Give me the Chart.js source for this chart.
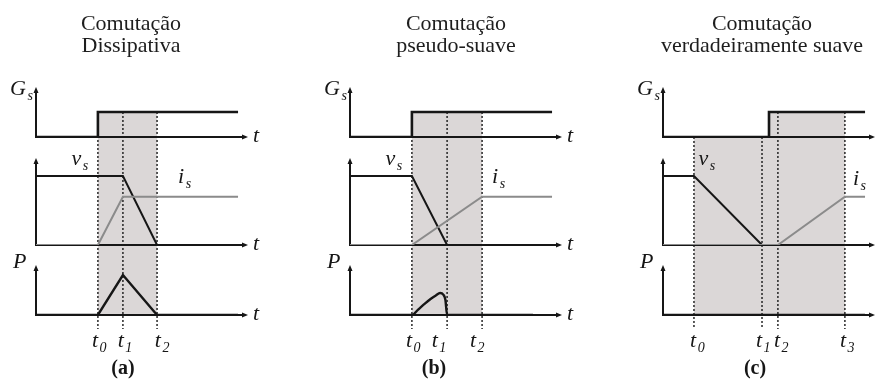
<!DOCTYPE html>
<html lang="pt">
<head>
<meta charset="utf-8">
<title>Comutação</title>
<script src="https://cdn.jsdelivr.net/npm/chart.js@4.4.1/dist/chart.umd.min.js"></script>
<style>
  html, body { margin: 0; padding: 0; background: #fff; overflow: hidden; }
  #fig { position: relative; width: 880px; height: 379px; overflow: hidden; }
  #fig canvas { position: absolute; top: 0; }
</style>
</head>
<body>
<div id="fig">
  <canvas id="panelA" width="262" height="379" style="left:0px"></canvas>
  <canvas id="panelB" width="300" height="379" style="left:306px"></canvas>
  <canvas id="panelC" width="264" height="379" style="left:630px"></canvas>
</div>
<script>
// --- waveforms (time in arbitrary units, levels normalised) ---

// (a) dissipative switching
const titleA = ['Comutação', 'Dissipativa'];
const gateTimeA = [0, 2.92, 2.92, 9.53];
const gateLevelA = [0, 0, 1, 1];
const vsTimeA = [0, 4.10, 5.71];
const vsLevelA = [1, 1, 0];
const isTimeA = [0, 2.92, 4.10, 9.53];
const isLevelA = [0, 0, 0.70, 0.70];
const powerTimeA = [0, 2.92, 4.10, 5.71, 9.53];
const powerLevelA = [0, 0, 1, 0, 0];
const instantsA = [2.92, 4.10, 5.71];

// (b) pseudo-soft switching
const titleB = ['Comutação', 'pseudo-suave'];
const gateTimeB = [0, 2.92, 2.92, 9.53];
const gateLevelB = [0, 0, 1, 1];
const vsTimeB = [0, 2.92, 4.58];
const vsLevelB = [1, 1, 0];
const isTimeB = [0, 2.92, 6.23, 9.53];
const isLevelB = [0, 0, 0.70, 0.70];
const powerTimeB = [0, 2.92, 3.2, 3.5, 3.8, 4.05, 4.25, 4.4, 4.5, 4.58, 8.63];
const powerLevelB = [0, 0, 0.13, 0.27, 0.40, 0.49, 0.55, 0.51, 0.38, 0, 0];
const instantsB = [2.92, 4.58, 6.23];

// (c) truly soft switching
const titleC = ['Comutação', 'verdadeiramente suave'];
const gateTimeC = [0, 5.0, 5.0, 9.53];
const gateLevelC = [0, 0, 1, 1];
const vsTimeC = [0, 1.46, 4.67];
const vsLevelC = [1, 1, 0];
const isTimeC = [0, 5.42, 8.58, 9.53];
const isLevelC = [0, 0, 0.70, 0.70];
const powerTimeC = [0, 9.53];
const powerLevelC = [0, 0];
const instantsC = [1.46, 4.67, 5.42, 8.58];

const INK = '#161616';
const CURRENT = '#8b8b8b';
const SHADE = '#dbd7d7';
const SERIF = '"Liberation Serif", "DejaVu Serif", serif';

function pts(ts, vs) {
  return ts.map((t, i) => ({ x: t, y: vs[i] }));
}

// italic symbol with optional subscript, left aligned on the baseline
function symbol(ctx, x, y, base, sub) {
  ctx.textAlign = 'left';
  ctx.textBaseline = 'alphabetic';
  ctx.font = `italic 22px ${SERIF}`;
  ctx.fillText(base, x, y);
  if (sub) {
    const w = ctx.measureText(base).width;
    ctx.font = `italic 14px ${SERIF}`;
    ctx.fillText(sub, x + w + 1.5, y + 5);
  }
}

// shaded switching interval, dotted instants, arrowed axes and symbols
const switchingDecor = {
  id: 'switchingDecor',
  beforeDatasetsDraw(chart, args, o) {
    const { ctx } = chart;
    const { x, yG, yV, yP } = chart.scales;
    const X = v => x.getPixelForValue(v);
    const gLow = yG.getPixelForValue(0);
    const gHigh = yG.getPixelForValue(1);
    const pBase = yP.getPixelForValue(0);
    const first = o.instants[0];
    const last = o.instants[o.instants.length - 1];
    const onAt = Math.max(first, o.gateOn);

    ctx.save();
    ctx.fillStyle = SHADE;
    ctx.fillRect(X(first), gLow, X(last) - X(first), pBase - gLow);
    ctx.fillRect(X(onAt), gHigh, X(last) - X(onAt), gLow - gHigh);

    ctx.strokeStyle = INK;
    ctx.lineWidth = 1.4;
    ctx.setLineDash([2, 2]);
    o.instants.forEach(t => {
      const xx = X(t);
      const top = t >= o.gateOn ? gHigh : gLow;
      ctx.beginPath();
      ctx.moveTo(xx, top);
      ctx.lineTo(xx, pBase + 14);
      ctx.stroke();
    });
    ctx.setLineDash([]);

    ctx.fillStyle = INK;
    ctx.lineWidth = 2;
    ctx.lineJoin = 'miter';
    [[yG, o.axisTop[0]], [yV, o.axisTop[1]], [yP, o.axisTop[2]]].forEach(([s, top]) => {
      const x0 = Math.round(X(0));
      const y0 = Math.round(s.getPixelForValue(0));
      const yTop = s.getPixelForValue(top);
      const xEnd = X(o.axisEnd);
      ctx.beginPath();
      ctx.moveTo(x0, yTop + 4);
      ctx.lineTo(x0, y0);
      ctx.lineTo(xEnd - 4, y0);
      ctx.stroke();
      ctx.beginPath();
      ctx.moveTo(x0, yTop);
      ctx.lineTo(x0 - 2.5, yTop + 6);
      ctx.lineTo(x0 + 2.5, yTop + 6);
      ctx.closePath();
      ctx.fill();
      ctx.beginPath();
      ctx.moveTo(xEnd, y0);
      ctx.lineTo(xEnd - 6, y0 - 2.5);
      ctx.lineTo(xEnd - 6, y0 + 2.5);
      ctx.closePath();
      ctx.fill();
    });
    ctx.restore();
  },
  afterDraw(chart, args, o) {
    const { ctx } = chart;
    const { x, yG, yV, yP } = chart.scales;
    const X = v => x.getPixelForValue(v);
    const ax = X(0);
    const pBase = yP.getPixelForValue(0);

    ctx.save();
    ctx.fillStyle = INK;
    symbol(ctx, ax - 26, yG.getPixelForValue(1.68), 'G', 's');
    symbol(ctx, X(o.vsLabel[0]), yV.getPixelForValue(o.vsLabel[1]), 'v', 's');
    symbol(ctx, X(o.isLabel[0]), yV.getPixelForValue(o.isLabel[1]), 'i', 's');
    symbol(ctx, ax - 23, yP.getPixelForValue(1.17), 'P');
    if (o.showT) {
      [yG, yV, yP].forEach(s => symbol(ctx, X(o.axisEnd) + 5, s.getPixelForValue(0) + 5, 't'));
    }

    ctx.font = `italic 22px ${SERIF}`;
    const tw = ctx.measureText('t').width;
    o.instants.forEach((t, i) => {
      symbol(ctx, X(o.instantLabelAt[i]) - tw / 2, pBase + 32, 't', String(i));
    });

    ctx.font = `bold 20px ${SERIF}`;
    ctx.textAlign = 'center';
    ctx.textBaseline = 'alphabetic';
    ctx.fillText(o.caption, X(o.captionAt), pBase + 59);
    ctx.restore();
  }
};

function signalAxis(order, share, max) {
  return {
    type: 'linear', position: 'left', stack: 'signals', stackWeight: share, weight: order,
    min: 0, max,
    ticks: { display: false },
    grid: { display: false, drawTicks: false },
    border: { display: false },
    afterFit(s) { s.width = 0; }
  };
}

function buildPanel(p) {
  const line = (data, axis, color, width, extra) => Object.assign({
    data, yAxisID: axis, borderColor: color, borderWidth: width,
    pointRadius: 0, fill: false, tension: 0
  }, extra || {});

  new Chart(document.getElementById(p.id), {
    type: 'line',
    data: {
      datasets: [
        line(pts(p.isTime, p.isLevel), 'yV', CURRENT, 2),
        line(pts(p.vsTime, p.vsLevel), 'yV', INK, 2),
        line(pts(p.gateTime, p.gateLevel), 'yG', INK, 2.6),
        line(pts(p.powerTime, p.powerLevel), 'yP', INK, 2.4,
          p.smoothPower ? { cubicInterpolationMode: 'monotone' } : {})
      ]
    },
    options: {
      responsive: false,
      animation: false,
      events: [],
      layout: { padding: { left: 0, right: 0, top: 0, bottom: 64 } },
      scales: {
        x: { type: 'linear', min: p.xMin, max: p.xMax, display: false },
        yG: signalAxis(3, 50, 2),
        yV: signalAxis(2, 108, 1.565),
        yP: signalAxis(1, 70, 1.75)
      },
      plugins: {
        legend: { display: false },
        tooltip: { enabled: false },
        title: {
          display: true,
          text: p.title,
          color: '#1e1e1e',
          font: { family: SERIF, size: 22, weight: 'normal', lineHeight: 1.02 },
          padding: { top: 12.8, bottom: 29.3 }
        },
        switchingDecor: {
          gateOn: p.gateTime[p.gateLevel.indexOf(1)],
          instants: p.instants,
          instantLabelAt: p.instantLabelAt,
          axisTop: [2, 1.26, 1.25],
          axisEnd: 10,
          vsLabel: [1.67, 1.16],
          isLabel: p.isLabel,
          showT: p.showT,
          caption: p.caption,
          captionAt: p.captionAt
        }
      }
    },
    plugins: [switchingDecor]
  });
}

buildPanel({
  id: 'panelA', title: titleA, caption: '(a)', captionAt: 4.1,
  xMin: -1.698, xMax: 10.66,
  gateTime: gateTimeA, gateLevel: gateLevelA, vsTime: vsTimeA, vsLevel: vsLevelA,
  isTime: isTimeA, isLevel: isLevelA, powerTime: powerTimeA, powerLevel: powerLevelA,
  instants: instantsA, instantLabelAt: [2.78, 4.0, 5.75],
  isLabel: [6.7, 0.9], showT: true
});

buildPanel({
  id: 'panelB', title: titleB, caption: '(b)', captionAt: 3.96,
  xMin: -2.075, xMax: 12.075,
  gateTime: gateTimeB, gateLevel: gateLevelB, vsTime: vsTimeB, vsLevel: vsLevelB,
  isTime: isTimeB, isLevel: isLevelB, powerTime: powerTimeB, powerLevel: powerLevelB,
  smoothPower: true,
  instants: instantsB, instantLabelAt: [2.78, 4.0, 5.8],
  isLabel: [6.7, 0.9], showT: true
});

buildPanel({
  id: 'panelC', title: titleC, caption: '(c)', captionAt: 4.34,
  xMin: -1.557, xMax: 10.896,
  gateTime: gateTimeC, gateLevel: gateLevelC, vsTime: vsTimeC, vsLevel: vsLevelC,
  isTime: isTimeC, isLevel: isLevelC, powerTime: powerTimeC, powerLevel: powerLevelC,
  instants: instantsC, instantLabelAt: [1.42, 4.53, 5.38, 8.49],
  isLabel: [8.96, 0.87], showT: false
});
</script>
</body>
</html>
